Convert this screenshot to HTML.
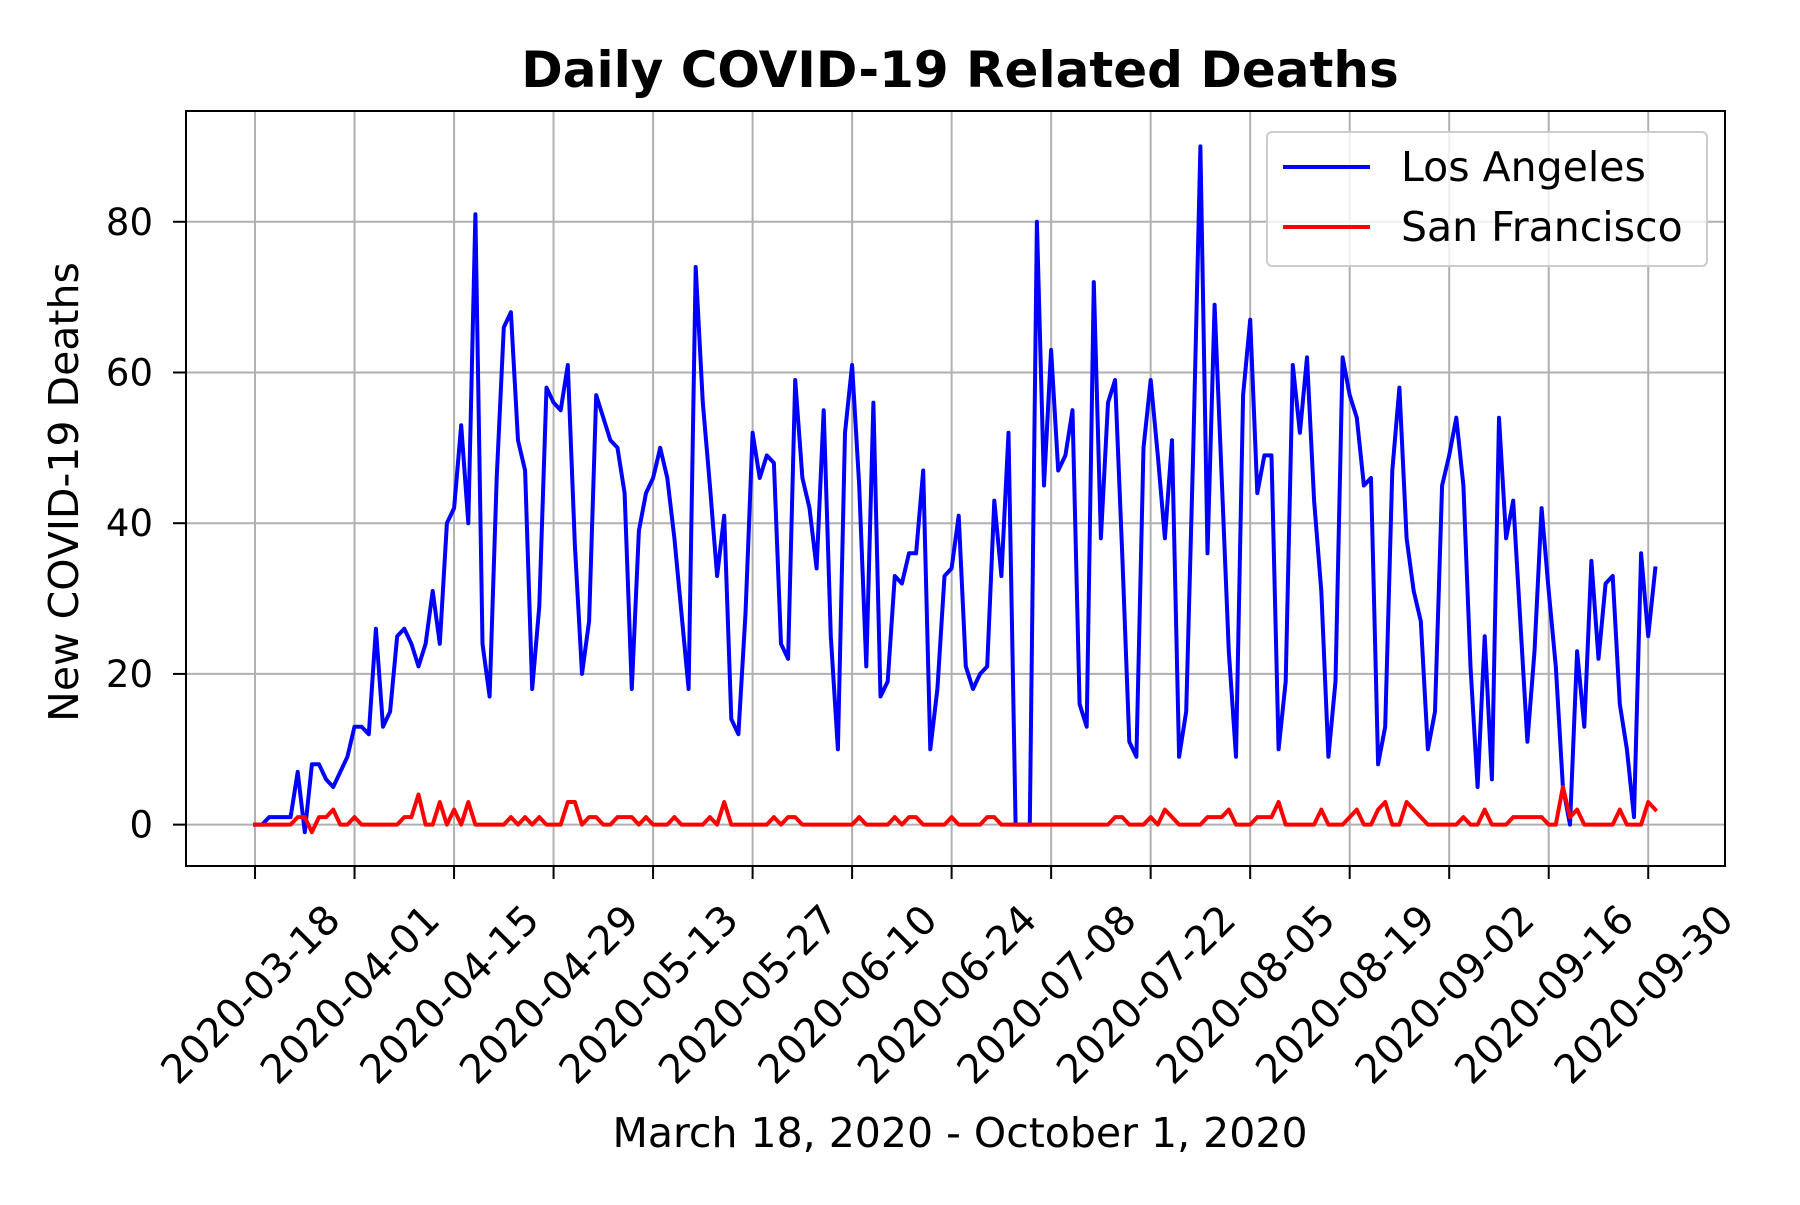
<!DOCTYPE html>
<html><head><meta charset="utf-8"><style>
html,body{margin:0;padding:0;background:#fff;}
svg text{font-family:"DejaVu Sans","Liberation Sans",sans-serif;}
</style></head><body>
<svg id="chart" width="1800" height="1200" viewBox="0 0 1800 1200" xmlns="http://www.w3.org/2000/svg">
<rect width="1800" height="1200" fill="#fff"/>
<g id="grid"></g>
<g id="series"></g>
<rect x="186" y="111" width="1539" height="755" fill="none" stroke="#000" stroke-width="2"/>
<g id="ticks"></g>
<text x="960" y="87" font-size="50" font-weight="bold" text-anchor="middle">Daily COVID-19 Related Deaths</text>
<text x="960" y="1147" font-size="41" text-anchor="middle">March 18, 2020 - October 1, 2020</text>
<text x="0" y="0" font-size="41" text-anchor="middle" transform="translate(78,492) rotate(-90)">New COVID-19 Deaths</text>
<g>
<rect x="1267" y="132" width="440" height="134" rx="5" fill="#fff" fill-opacity="0.8" stroke="#ccc" stroke-width="2"/>
<line x1="1283" y1="167" x2="1370" y2="167" stroke="#0000ff" stroke-width="4"/>
<text x="1401" y="181" font-size="41">Los Angeles</text>
<line x1="1283" y1="227" x2="1370" y2="227" stroke="#ff0000" stroke-width="4"/>
<text x="1401" y="241" font-size="41">San Francisco</text>
</g>
</svg>
<script>
const laValues=[0,0,1,1,1,1,7,-1,8,8,6,5,7,9,13,13,12,26,13,15,25,26,24,21,24,31,24,40,42,53,40,81,24,17,46,66,68,51,47,18,29,58,56,55,61,37,20,27,57,54,51,50,44,18,39,44,46,50,46,38,28,18,74,56,45,33,41,14,12,28,52,46,49,48,24,22,59,46,42,34,55,25,10,52,61,45,21,56,17,19,33,32,36,36,47,10,18,33,34,41,21,18,20,21,43,33,52,0,0,0,80,45,63,47,49,55,16,13,72,38,56,59,36,11,9,50,59,49,38,51,9,15,50,90,36,69,46,23,9,57,67,44,49,49,10,19,61,52,62,43,31,9,19,62,57,54,45,46,8,13,47,58,38,31,27,10,15,45,49,54,45,21,5,25,6,54,38,43,27,11,23,42,31,21,5,0,23,13,35,22,32,33,16,10,1,36,25,34];
const sfValues=[0,0,0,0,0,0,1,1,-1,1,1,2,0,0,1,0,0,0,0,0,0,1,1,4,0,0,3,0,2,0,3,0,0,0,0,0,1,0,1,0,1,0,0,0,3,3,0,1,1,0,0,1,1,1,0,1,0,0,0,1,0,0,0,0,1,0,3,0,0,0,0,0,0,1,0,1,1,0,0,0,0,0,0,0,0,1,0,0,0,0,1,0,1,1,0,0,0,0,1,0,0,0,0,1,1,0,0,0,0,0,0,0,0,0,0,0,0,0,0,0,0,1,1,0,0,0,1,0,2,1,0,0,0,0,1,1,1,2,0,0,0,1,1,1,3,0,0,0,0,0,2,0,0,0,1,2,0,0,2,3,0,0,3,2,1,0,0,0,0,0,1,0,0,2,0,0,0,1,1,1,1,1,0,0,5,1,2,0,0,0,0,0,2,0,0,0,3,2];
const xTickLabels=["2020-03-18","2020-04-01","2020-04-15","2020-04-29","2020-05-13","2020-05-27","2020-06-10","2020-06-24","2020-07-08","2020-07-22","2020-08-05","2020-08-19","2020-09-02","2020-09-16","2020-09-30"];
const xTickDays=[0,14,28,42,56,70,84,98,112,126,140,154,168,182,196];
const yTicks=[0,20,40,60,80];

const L=186,R=1725,T=111,B=866;
const xMin=-9.71,xMax=206.8,yMin=-5.49,yMax=94.7;
function xs(d){return L+(d-xMin)/(xMax-xMin)*(R-L);}
function ys(v){return B-(v-yMin)/(yMax-yMin)*(B-T);}
const NS="http://www.w3.org/2000/svg";
const grid=document.getElementById('grid'),ticks=document.getElementById('ticks'),series=document.getElementById('series');
function mk(tag,attrs,parent){const e=document.createElementNS(NS,tag);for(const k in attrs)e.setAttribute(k,attrs[k]);parent.appendChild(e);return e;}

xTickDays.forEach((d,i)=>{
  const x=xs(d);
  const g=mk('line',{x1:x,y1:T,x2:x,y2:B,stroke:'#b0b0b0','stroke-width':2},grid);
  
  
  const t=mk('line',{x1:x,y1:B,x2:x,y2:B+13,stroke:'#000','stroke-width':2},ticks);
  
  
  const lb=mk('text',{x:0,y:0,'font-size':40,'text-anchor':'middle','dominant-baseline':'central',transform:`translate(${x-4},${995}) rotate(-45)`},ticks);
  lb.textContent=xTickLabels[i];
  
  
});
yTicks.forEach(v=>{
  const y=ys(v);
  const g=mk('line',{x1:L,y1:y,x2:R,y2:y,stroke:'#b0b0b0','stroke-width':2},grid);
  
  
  const t=mk('line',{x1:L-13,y1:y,x2:L,y2:y,stroke:'#000','stroke-width':2},ticks);
  
  
  const lb=mk('text',{x:L-33,y:y+13,'font-size':37,'text-anchor':'end'},ticks);
  lb.textContent=String(v);
  
  
});
function line(vals,color,name){
  const pts=vals.map((v,i)=>xs(i).toFixed(1)+','+ys(v).toFixed(1)).join(' ');
  const p=mk('polyline',{points:pts,fill:'none',stroke:color,'stroke-width':4,'stroke-linejoin':'round','stroke-linecap':'square'},series);
  
  
}
line(laValues,'#0000ff','los-angeles-line');
line(sfValues,'#ff0000','san-francisco-line');
</script>
</body></html>
